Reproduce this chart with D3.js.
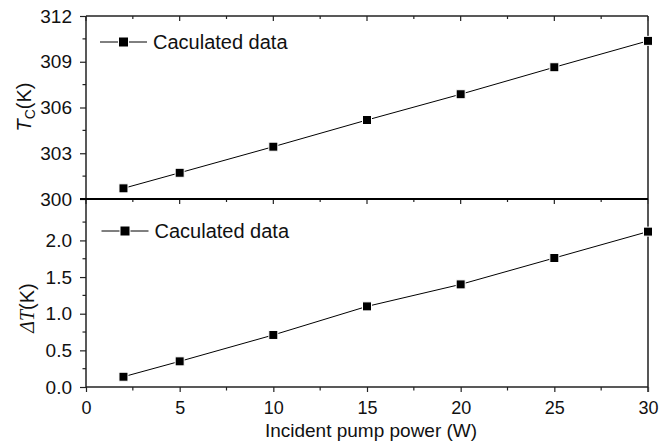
<!DOCTYPE html>
<html>
<head>
<meta charset="utf-8">
<script src="https://cdn.jsdelivr.net/npm/d3@7"></script>
<style>
  body { margin: 0; background: #fff; }
  svg { font-family: "Liberation Sans", Arial, sans-serif; }
</style>
</head>
<body>
<div id="chart"></div>
<script>
// pump power (W) and the two calculated series
const power = [2, 5, 10, 15, 20, 25, 30];
const tcValues = [300.70, 301.72, 303.43, 305.18, 306.87, 308.64, 310.37];
const dtValues = [0.14, 0.35, 0.71, 1.10, 1.40, 1.76, 2.12];
const xTicks = [0, 5, 10, 15, 20, 25, 30];
const tcTicks = [300, 303, 306, 309, 312];
const dtTicks = [0, 0.5, 1.0, 1.5, 2.0];
const legendLabel = 'Caculated data';

const width = 660, height = 447;
const left = 86, right = 648;
const topY = 16, midY = 199, bottomY = 387;

const svg = d3.select('#chart').append('svg')
  .attr('width', width)
  .attr('height', height);

const x = d3.scaleLinear().domain([0, 30]).range([left, right]);
const yTop = d3.scaleLinear().domain([300, 312]).range([midY, topY]);
const yBot = d3.scaleLinear().domain([0, 2.565]).range([bottomY, midY]);

function minors(start, stop, step) {
  return d3.range(start, stop + 1e-9, step);
}

// left axes
function leftAxis(scale, major, minorVals, fmt) {
  const g = svg.append('g').attr('transform', `translate(${left},0)`);
  g.call(d3.axisLeft(scale).tickValues(major).tickSize(6).tickPadding(8).tickFormat(fmt));
  g.select('.domain').remove();
  g.selectAll('.tick text').attr('font-size', 19).attr('fill', '#111');
  g.selectAll('.tick line').attr('stroke', '#222').attr('stroke-width', 1.2);
  g.selectAll('.minor').data(minorVals).enter().append('line')
    .attr('x1', -3.5).attr('x2', 0)
    .attr('y1', d => scale(d)).attr('y2', d => scale(d))
    .attr('stroke', '#222').attr('stroke-width', 1.2);
}
leftAxis(yTop, tcTicks, minors(301.5, 310.5, 3), d3.format('d'));
leftAxis(yBot, dtTicks, minors(0.25, 2.25, 0.5), d3.format('.1f'));

// bottom axis
const xg = svg.append('g').attr('transform', `translate(0,${bottomY})`);
xg.call(d3.axisBottom(x).tickValues(xTicks).tickSize(5).tickPadding(9).tickFormat(d3.format('d')));
xg.select('.domain').remove();
xg.selectAll('.tick text').attr('font-size', 18).attr('fill', '#111');
xg.selectAll('.tick line').attr('stroke', '#222').attr('stroke-width', 1.2);
xg.selectAll('.minor').data(minors(2.5, 27.5, 5)).enter().append('line')
  .attr('x1', d => x(d)).attr('x2', d => x(d))
  .attr('y1', 0).attr('y2', 3.5)
  .attr('stroke', '#222').attr('stroke-width', 1.2);

// inward ticks on top edges of both panels
[topY, midY].forEach(yy => {
  svg.append('g').selectAll('line')
    .data(xTicks.concat(minors(2.5, 27.5, 5)))
    .enter().append('line')
    .attr('x1', d => x(d)).attr('x2', d => x(d))
    .attr('y1', yy).attr('y2', d => yy + (d % 5 === 0 ? 5 : 3))
    .attr('stroke', '#222').attr('stroke-width', 1.2);
});

// frame
svg.append('line').attr('x1', left).attr('x2', left).attr('y1', topY).attr('y2', bottomY)
  .attr('stroke', '#222').attr('stroke-width', 1.5);
svg.append('line').attr('x1', right).attr('x2', right).attr('y1', topY).attr('y2', bottomY + 5)
  .attr('stroke', '#444').attr('stroke-width', 1.8);
svg.append('line').attr('x1', left).attr('x2', right).attr('y1', topY).attr('y2', topY)
  .attr('stroke', '#222').attr('stroke-width', 1.6);
svg.append('line').attr('x1', left - 6).attr('x2', right).attr('y1', midY).attr('y2', midY)
  .attr('stroke', '#000').attr('stroke-width', 2);
svg.append('line').attr('x1', left).attr('x2', right).attr('y1', bottomY).attr('y2', bottomY)
  .attr('stroke', '#222').attr('stroke-width', 1.5);

// series
function series(values, yScale) {
  const pts = power.map((p, i) => [x(p), yScale(values[i])]);
  svg.append('path')
    .attr('d', d3.line()(pts))
    .attr('fill', 'none').attr('stroke', '#000').attr('stroke-width', 1);
  svg.append('g').selectAll('rect').data(pts).enter().append('rect')
    .attr('x', d => d[0] - 4.5).attr('y', d => d[1] - 4.5)
    .attr('width', 9).attr('height', 9)
    .attr('fill', '#000').attr('stroke', '#fff').attr('stroke-width', 1);
}
series(tcValues, yTop);
series(dtValues, yBot);

// legends
function legend(x0, y0) {
  svg.append('line').attr('x1', x0).attr('x2', x0 + 47).attr('y1', y0).attr('y2', y0)
    .attr('stroke', '#000').attr('stroke-width', 1);
  svg.append('rect').attr('x', x0 + 18.5).attr('y', y0 - 5).attr('width', 10).attr('height', 10)
    .attr('fill', '#000').attr('stroke', '#fff').attr('stroke-width', 1);
  svg.append('text').attr('x', x0 + 53).attr('y', y0 + 6.5)
    .attr('font-size', 20).attr('fill', '#111').text(legendLabel);
}
legend(100, 42);
legend(101.5, 231);

// axis titles
const t1 = svg.append('text')
  .attr('transform', 'translate(31,107) rotate(-90)')
  .attr('text-anchor', 'middle').attr('font-size', 20).attr('fill', '#111');
t1.append('tspan').attr('font-style', 'italic').text('T');
t1.append('tspan').attr('font-size', 14).attr('dy', 4).text('C');
t1.append('tspan').attr('dy', -4).text('(K)');

const t2 = svg.append('text')
  .attr('transform', 'translate(34,308) rotate(-90)')
  .attr('text-anchor', 'middle').attr('font-size', 20).attr('fill', '#111');
t2.append('tspan').attr('font-style', 'italic').attr('font-family', '"Liberation Serif", serif').text('ΔT');
t2.append('tspan').text('(K)');

svg.append('text').attr('x', 371).attr('y', 437)
  .attr('text-anchor', 'middle').attr('font-size', 19).attr('fill', '#111')
  .text('Incident pump power (W)');
</script>
</body>
</html>
